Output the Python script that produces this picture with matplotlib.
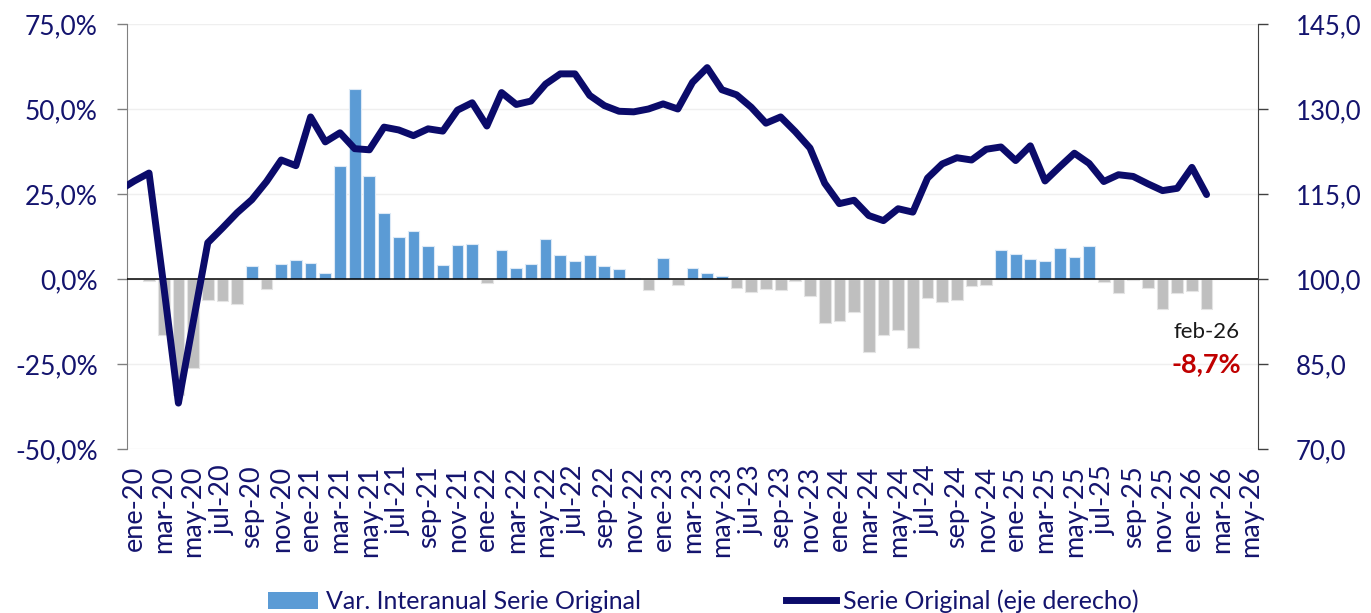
import matplotlib
matplotlib.use("Agg")
import matplotlib.pyplot as plt
from matplotlib.ticker import FuncFormatter, FixedLocator
from matplotlib.patches import Patch
from matplotlib.lines import Line2D

plt.rcParams['font.family'] = ['Lato', 'DejaVu Sans']

# ---------------- data ----------------
month_abbr = ['ene', 'feb', 'mar', 'abr', 'may', 'jun', 'jul', 'ago', 'sep', 'oct', 'nov', 'dic']
years = [20, 21, 22, 23, 24, 25, 26]
categories = [f"{m}-{y}" for y in years for m in month_abbr][:77]   # ene-20 .. may-26

# Var. interanual (%) ene-20 .. feb-26
var_interanual = [
    0.0, -0.7, -16.5, -34.0, -26.3, -6.3, -6.6, -7.3, 3.7, -2.9, 4.4, 5.5,
    4.6, 1.7, 33.1, 56.0, 30.3, 19.4, 12.5, 14.0, 9.8, 4.1, 9.9, 10.4,
    -1.3, 8.5, 3.3, 4.4, 11.7, 7.1, 5.2, 7.2, 3.8, 2.9, 0.4, -3.1,
    6.1, -1.7, 3.2, 1.7, 0.9, -2.5, -3.9, -2.9, -3.1, -0.7, -4.9, -13.0,
    -12.3, -9.8, -21.5, -16.6, -15.1, -20.2, -5.5, -6.9, -6.3, -2.0, -1.7, 8.6,
    7.5, 6.0, 5.2, 9.2, 6.4, 9.6, -0.8, -4.2, -0.3, -2.7, -8.8, -4.0,
    -3.4, -8.7,
]

# Serie original (eje derecho): dic-19 .. feb-26 (dic-19 lies left of the axis and is clipped)
serie_prev = 115.7
serie_original = [
    117.3, 118.7, 98.8, 78.1, 92.3, 106.4, 109.0, 111.7, 114.0, 117.2, 121.0, 120.0,
    128.6, 124.2, 125.8, 123.0, 122.8, 126.8, 126.3, 125.3, 126.5, 126.1, 129.8, 131.1,
    127.0, 132.9, 130.8, 131.4, 134.4, 136.2, 136.2, 132.4, 130.6, 129.6, 129.5, 130.0,
    130.9, 130.0, 134.7, 137.3, 133.4, 132.5, 130.3, 127.5, 128.6, 126.0, 123.1, 116.9,
    113.3, 113.9, 111.2, 110.3, 112.4, 111.8, 117.8, 120.3, 121.4, 121.0, 122.9, 123.3,
    120.9, 123.5, 117.3, 119.8, 122.2, 120.4, 117.2, 118.4, 118.1, 116.8, 115.6, 116.0,
    119.7, 114.9,
]

left_ticks = [-50, -25, 0, 25, 50, 75]
right_ticks = [70, 85, 100, 115, 130, 145]
annot_label = "feb-26"
annot_value = "-8,7%"

# ---------------- style ----------------
NAVY = '#0B0B6A'
TEXT = '#14146E'
BLUE = '#5B9BD5'
GREY = '#BFBFBF'

fig = plt.figure(figsize=(13.71, 6.13), dpi=100)
ax = fig.add_axes([127/1371, 1 - 449/613, (1258-127)/1371, (449-24)/613])
ax2 = ax.twinx()

x_bar = list(range(len(var_interanual)))
colors = [BLUE if v > 0 else GREY for v in var_interanual]
edges = ['#DCE9F6' if v > 0 else '#E4E4E4' for v in var_interanual]
ax.bar(x_bar, var_interanual, width=0.8, color=colors, edgecolor=edges, linewidth=0.8, zorder=2)

ax.axhline(0, color='black', lw=1.1, zorder=3)

ax.set_xlim(-0.5, len(categories) - 0.5)
ax.set_ylim(-50, 75)
ax.yaxis.set_major_locator(FixedLocator(left_ticks))
ax.yaxis.set_major_formatter(FuncFormatter(lambda v, p: f"{v:.1f}".replace('.', ',') + '%'))
ax.grid(axis='y', color='#EFEFEF', lw=1, zorder=0)
ax.set_axisbelow(True)

xt = list(range(0, len(categories), 2))
ax.set_xticks(xt)
ax.set_xticklabels([categories[i] for i in xt], rotation=90, fontsize=19.5, color=TEXT)
ax.tick_params(axis='x', length=0, pad=12)
ax.tick_params(axis='y', labelsize=19, labelcolor=TEXT, color='#808080', length=7, width=1, pad=14)

for s in ['top', 'bottom']:
    ax.spines[s].set_visible(False)
    ax2.spines[s].set_visible(False)
ax.spines['left'].set_color('#808080')
ax2.spines['left'].set_visible(False)
ax2.spines['right'].set_color('#404040')
ax.spines['right'].set_visible(False)

x_line = [-1] + list(range(len(serie_original)))
ax2.plot(x_line, [serie_prev] + serie_original, color=NAVY, lw=5.0,
         solid_joinstyle='round', solid_capstyle='round', zorder=4)
ax2.set_ylim(70, 145)
ax2.yaxis.set_major_locator(FixedLocator(right_ticks))
ax2.yaxis.set_major_formatter(FuncFormatter(lambda v, p: f"{v:.1f}".replace('.', ',')))
ax2.tick_params(axis='y', labelsize=18.5, labelcolor=TEXT, color='#404040', length=7, width=1, pad=20)
ax2.set_xlim(-0.5, len(categories) - 0.5)

# annotation for last value
last = len(var_interanual) - 1
ax.text(last, -15.5, annot_label, ha='center', va='center', fontsize=16, color='#1A1A1A')
ax.text(last, -25.0, annot_value, ha='center', va='center', fontsize=19.5, color='#C00000', fontweight='bold')

handles = [Patch(facecolor=BLUE, edgecolor='none'),
           Line2D([0], [0], color=NAVY, lw=5)]
labels = ['Var. Interanual Serie Original', 'Serie Original (eje derecho)']
fig.legend(handles, labels, loc='lower center', bbox_to_anchor=(0.513, -0.037), ncol=2,
           frameon=False, fontsize=18, labelcolor=TEXT, handlelength=2.0,
           handletextpad=0.3, columnspacing=5.8, handleheight=0.7)

fig.savefig('out.png', dpi=100)
